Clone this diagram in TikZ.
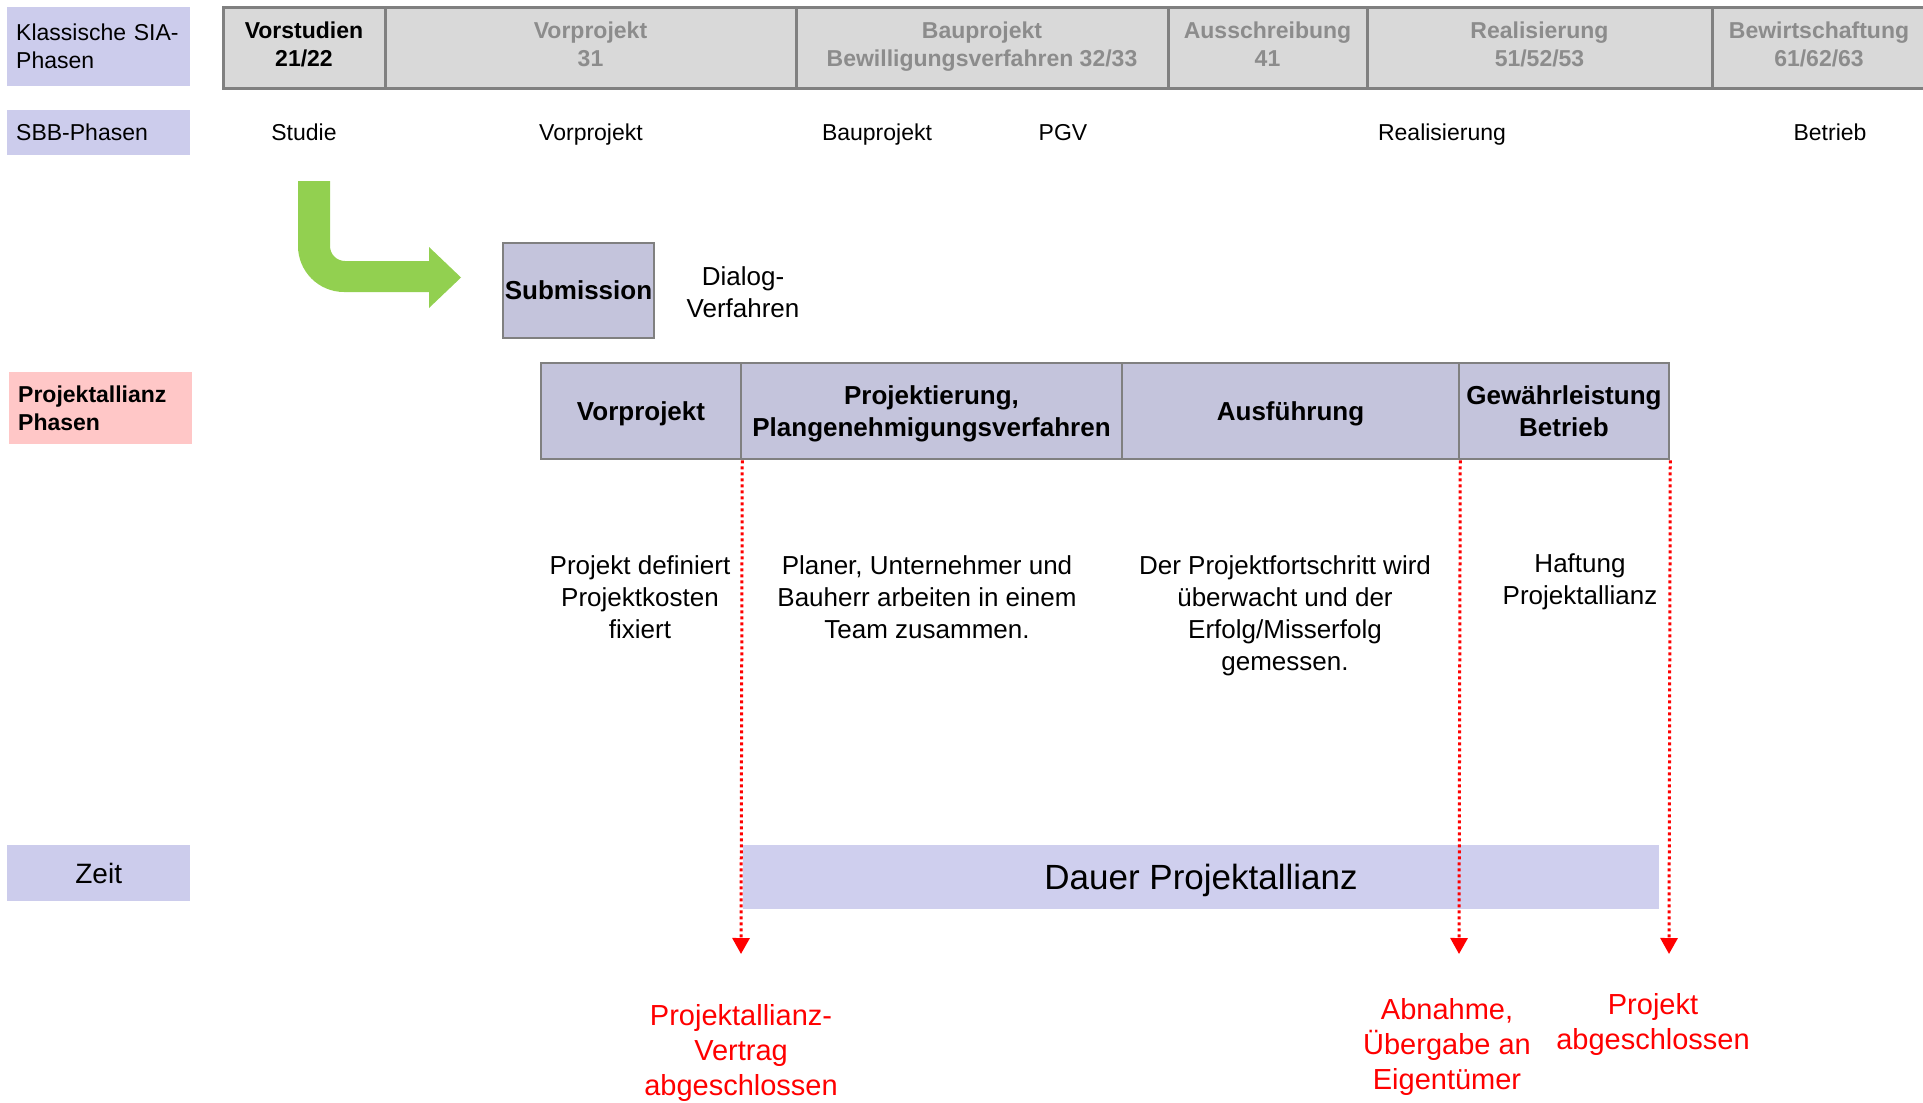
\documentclass[tikz,border=0pt]{standalone}
\usepackage{fontspec}
\setmainfont{Liberation Sans}
\usetikzlibrary{arrows.meta,positioning,calc}
\definecolor{PaLavender}{RGB}{204,204,236}
\definecolor{PaRose}{RGB}{255,199,199}
\definecolor{PaPhase}{RGB}{196,196,220}
\definecolor{PaSiaFill}{RGB}{217,217,217}
\definecolor{PaSiaText}{RGB}{140,140,140}
\definecolor{PaBorder}{RGB}{128,128,128}
\definecolor{PaGreen}{RGB}{146,208,80}
\definecolor{PaRed}{RGB}{255,0,0}
\definecolor{PaBar}{RGB}{207,207,238}
\tikzset{
  pa/tag/.style={
    fill=PaLavender,
    anchor=north west,
    minimum width=183pt,
    text width=165pt,
    inner xsep=9pt,
    inner ysep=0pt,
    align=left,
    font=\fontsize{23}{28}\selectfont
  },
  pa/sia/.style={
    draw=PaBorder,
    line width=3pt,
    fill=PaSiaFill,
    minimum height=81pt,
    inner sep=2pt,
    text depth=7pt,
    align=center,
    text=PaSiaText,
    font=\fontsize{23}{28}\selectfont\bfseries
  },
  pa/sbb/.style={anchor=base, font=\fontsize{23}{28}\selectfont, inner sep=0pt},
  pa/phase/.style={
    draw=PaBorder,
    line width=2.5pt,
    fill=PaPhase,
    minimum height=96pt,
    inner sep=2pt,
    text depth=0pt,
    align=center,
    font=\fontsize{26}{32}\selectfont\bfseries
  },
  pa/note/.style={align=center, inner sep=0pt, font=\fontsize{26}{32}\selectfont},
  pa/milestone/.style={-{Triangle[length=16pt,width=17pt]}, line width=3pt, draw=PaRed, dash pattern=on 3pt off 3pt},
  pa/redlabel/.style={anchor=north, align=center, inner sep=0pt, text=PaRed, font=\fontsize{29}{35}\selectfont}
}
\begin{document}
\begin{tikzpicture}[x=1pt,y=-1pt]
  \useasboundingbox[fill=white] (0,0) rectangle (1923,1103);
  % row labels
  \node[pa/tag, minimum height=79pt] (tagSia) at (7,7) {Klassische SIA-\\Phasen};
  \node[pa/tag, minimum height=45pt] (tagSbb) at (7,110) {SBB-Phasen};
  \node[pa/tag, fill=PaRose, minimum height=72pt, font=\fontsize{23}{28}\selectfont\bfseries] (tagPa) at (9,372) {Projektallianz\\Phasen};
  \node[pa/tag, minimum height=56pt, align=center, font=\fontsize{28}{34}\selectfont] (tagZeit) at (7,845) {Zeit};
  % SIA phases
  \node[pa/sia, minimum width=162pt, text=black] (siaVs) at (304,47.5) {Vorstudien\\21/22};
  \node[pa/sia, minimum width=411pt] (siaVp) at (590.5,47.5) {Vorprojekt\\31};
  \node[pa/sia, minimum width=372pt] (siaBp) at (982,47.5) {Bauprojekt\\Bewilligungsverfahren 32/33};
  \node[pa/sia, minimum width=199pt] (siaAus) at (1267.5,47.5) {Ausschreibung\\41};
  \node[pa/sia, minimum width=345pt] (siaReal) at (1539.5,47.5) {Realisierung\\51/52/53};
  \node[pa/sia, minimum width=214pt] (siaBew) at (1819,47.5) {Bewirtschaftung\\61/62/63};
  % SBB phases
  \node[pa/sbb] (sbbStudie) at (304,140) {Studie};
  \node[pa/sbb] (sbbVp) at (591,140) {Vorprojekt};
  \node[pa/sbb] (sbbBp) at (877,140) {Bauprojekt};
  \node[pa/sbb] (sbbPgv) at (1063,140) {PGV};
  \node[pa/sbb] (sbbReal) at (1442,140) {Realisierung};
  \node[pa/sbb] (sbbBetrieb) at (1830,140) {Betrieb};
  % green bent arrow
  \fill[PaGreen] (298,181) -- (298,246) .. controls (298,271.4) and (318.6,292) .. (344,292)
    -- (429,292) -- (429,308) -- (461,277.5) -- (429,247) -- (429,261) -- (345,261)
    .. controls (336.7,261) and (330,254.3) .. (330,246) -- (330,181) -- cycle;
  \node[pa/phase, minimum width=151pt, minimum height=95pt, text depth=-2pt] (subm) at (578.5,290.5) {Submission};
  \node[pa/note] (dialog) at (743,292) {Dialog-\\Verfahren};
  % Projektallianz phases
  \node[pa/phase, minimum width=200pt] (paVp) at (641,411) {Vorprojekt};
  \node[pa/phase, minimum width=381pt] (paProj) at (931.5,411) {Projektierung,\\Plangenehmigungsverfahren};
  \node[pa/phase, minimum width=337pt] (paAus) at (1290.5,411) {Ausführung};
  \node[pa/phase, minimum width=210pt] (paGew) at (1564,411) {Gewährleistung\\Betrieb};
  % descriptions
  \node[pa/note, anchor=north] (noteVp) at (640,555) {Projekt definiert\\Projektkosten\\fixiert};
  \node[pa/note, anchor=north] (noteProj) at (927,555) {Planer, Unternehmer und\\Bauherr arbeiten in einem\\Team zusammen.};
  \node[pa/note, anchor=north] (noteAus) at (1285,555) {Der Projektfortschritt wird\\überwacht und der\\Erfolg/Misserfolg\\gemessen.};
  \node[pa/note, anchor=north] (noteGew) at (1580,553) {Haftung\\Projektallianz};
  % duration bar
  \node[fill=PaBar, minimum width=916pt, minimum height=64pt, inner sep=0pt, text depth=0pt, font=\fontsize{35}{42}\selectfont] (dauer) at (1201,877) {Dauer Projektallianz};
  % milestones
  \coordinate (tipVertrag) at (741,954);
  \coordinate (tipAbnahme) at (1459,954);
  \coordinate (tipEnde) at (1669,954);
  \draw[pa/milestone] (paVp.south east) -- (tipVertrag);
  \draw[pa/milestone] (paAus.south east) -- (tipAbnahme);
  \draw[pa/milestone] (paGew.south east) -- (tipEnde);
  \node[pa/redlabel] (lblVertrag) at (741,1004) {Projektallianz-\\Vertrag\\abgeschlossen};
  \node[pa/redlabel] (lblAbnahme) at (1447,998) {Abnahme,\\Übergabe an\\Eigentümer};
  \node[pa/redlabel] (lblEnde) at (1653,993) {Projekt\\abgeschlossen};
\end{tikzpicture}
\end{document}
